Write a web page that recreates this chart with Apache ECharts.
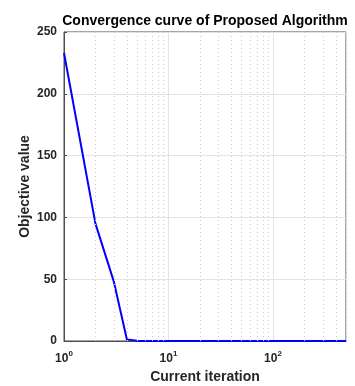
<!DOCTYPE html>
<html><head><meta charset="utf-8">
<script src="https://cdn.jsdelivr.net/npm/echarts@6/dist/echarts.min.js"></script>
<style>html,body{margin:0;padding:0;background:#fff}#c{width:355px;height:386px}</style>
</head><body><div id="c"></div>
<script>
const titleText = 'Convergence curve of Proposed Algorithm';
const xName = 'Current iteration';
const yName = 'Objective value';
const iterations = [1, 2, 3, 4, 5, 6, 8, 10, 20, 50, 100, 200, 500];
const objective = [233, 95, 48, 1.2, 0.3, 0.1, 0.05, 0.02, 0.01, 0, 0, 0, 0];
const yTicks = [0, 50, 100, 150, 200, 250];
const minorX = [2,3,4,5,6,7,8,9,20,30,40,50,60,70,80,90,200,300,400,500];

const font = 'Liberation Sans, Arial, Helvetica, sans-serif';
const chart = echarts.init(document.getElementById('c'));
chart.setOption({
  animation: false,
  title: {text: titleText, left: 200, textAlign: 'center', top: 9,
    textStyle: {fontFamily: font, fontSize: 14, fontWeight: 'bold', color: '#000'}},
  grid: {left: 64, right: 9, top: 32, bottom: 45, show: true, borderColor: '#4d4d4d', borderWidth: 1,
    backgroundColor: 'transparent', containLabel: false, outerBoundsMode: 'none'},
  xAxis: {type: 'log', logBase: 10, min: 1, max: 500,
    name: xName, nameLocation: 'middle', nameGap: 29, nameMoveOverlap: false,
    nameTextStyle: {fontFamily: font, fontSize: 14, fontWeight: 'bold', color: '#262626'},
    axisLine: {show: true, lineStyle: {color: '#4d4d4d'}},
    axisTick: {show: false},
    splitLine: {show: true, lineStyle: {color: '#e3e3e3', width: 1}},
    axisLabel: {margin: 9, showMaxLabel: false,
      formatter: v => '{b|10}{s|' + Math.round(Math.log10(v)) + '}',
      rich: {b: {fontFamily: font, fontSize: 12, fontWeight: 'bold', color: '#262626'},
             s: {fontFamily: font, fontSize: 8, fontWeight: 'bold', color: '#262626', verticalAlign: 'bottom', padding: [0,0,9,0]}}}
  },
  yAxis: {type: 'value', min: 0, max: 250, interval: 50,
    name: yName, nameLocation: 'middle', nameGap: 32, nameMoveOverlap: false,
    nameTextStyle: {fontFamily: font, fontSize: 14, fontWeight: 'bold', color: '#262626'},
    axisLine: {show: true, lineStyle: {color: '#4d4d4d'}},
    axisTick: {show: true, inside: true, length: 3, lineStyle: {color: '#4d4d4d'}},
    splitLine: {show: true, lineStyle: {color: '#e3e3e3', width: 1}},
    axisLabel: {fontFamily: font, fontSize: 12, fontWeight: 'bold', color: '#262626', margin: 7,
      formatter: v => yTicks.includes(v) ? String(v) : ''}
  },
  series: [
    {type: 'line', data: [], z: 1, silent: true,
      markLine: {silent: true, symbol: 'none', label: {show: false},
        lineStyle: {color: '#c8c8c8', type: [1, 3], width: 1},
        data: minorX.map(v => ({xAxis: v}))}},
    {type: 'line', z: 3, data: iterations.map((x, i) => [x, objective[i]]),
      showSymbol: false, lineStyle: {color: '#0000ff', width: 2}, itemStyle: {color: '#0000ff'}}
  ]
});
</script></body></html>
